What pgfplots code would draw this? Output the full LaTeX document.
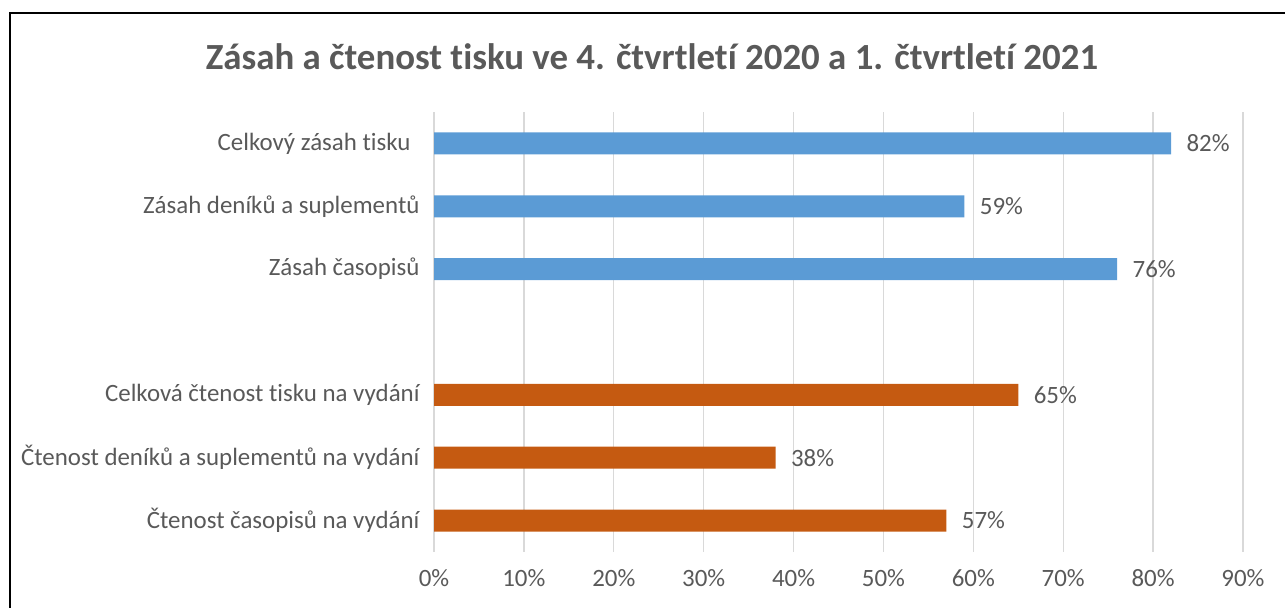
\documentclass[border=0pt]{standalone}
\usepackage{pgfplots}
\pgfplotsset{compat=1.18}
\usepackage{fontspec}
\setmainfont{Carlito}[Ligatures=NoCommon]
\definecolor{txt}{HTML}{595959}
\definecolor{gridc}{HTML}{D9D9D9}
\definecolor{blu}{HTML}{5B9BD5}
\definecolor{ora}{HTML}{C55A11}
\begin{document}
\begin{tikzpicture}[x=1bp,y=1bp]
\path[use as bounding box] (0,0) rectangle (1285,608);
\draw[line width=2.5bp,black] (10,0) -- (10,595) -- (1285,595);
\node[text=txt,font=\bfseries\fontsize{37}{44}\selectfont] at (652,551) {Zásah a čtenost tisku ve 4. čtvrtletí 2020 a 1. čtvrtletí 2021};
\begin{axis}[
  at={(434bp,56bp)}, anchor=south west,
  scale only axis, width=809bp, height=440bp,
  xbar, bar width=22bp, bar shift=0pt,
  xmin=0, xmax=90, ymin=-0.5, ymax=6.5,
  xtick={0,10,...,90},
  xticklabels={0\%,10\%,20\%,30\%,40\%,50\%,60\%,70\%,80\%,90\%},
  ytick={0,1,2,4,5,6},
  yticklabels={Čtenost časopisů na vydání,Čtenost deníků a suplementů na vydání,Celková čtenost tisku na vydání,Zásah časopisů,Zásah deníků a suplementů,{Celkový zásah tisku\rule{9bp}{0pt}}},
  major tick length=0pt,
  axis line style={draw=none},
  xmajorgrids, grid style={gridc, line width=1.3bp},
  ticklabel style={text=txt, font=\fontsize{25}{30}\selectfont},
  xticklabel style={yshift=-14bp},
  yticklabel style={xshift=-11bp},
  nodes near coords={\pgfmathprintnumber[assume math mode=true]{\pgfplotspointmeta}\%},
  nodes near coords style={text=txt, font=\fontsize{25}{30}\selectfont, xshift=12bp},
]
\addplot[draw=none, fill=blu] coordinates {(82,6) (59,5) (76,4)};
\addplot[draw=none, fill=ora] coordinates {(65,2) (38,1) (57,0)};
\end{axis}
\end{tikzpicture}
\end{document}
